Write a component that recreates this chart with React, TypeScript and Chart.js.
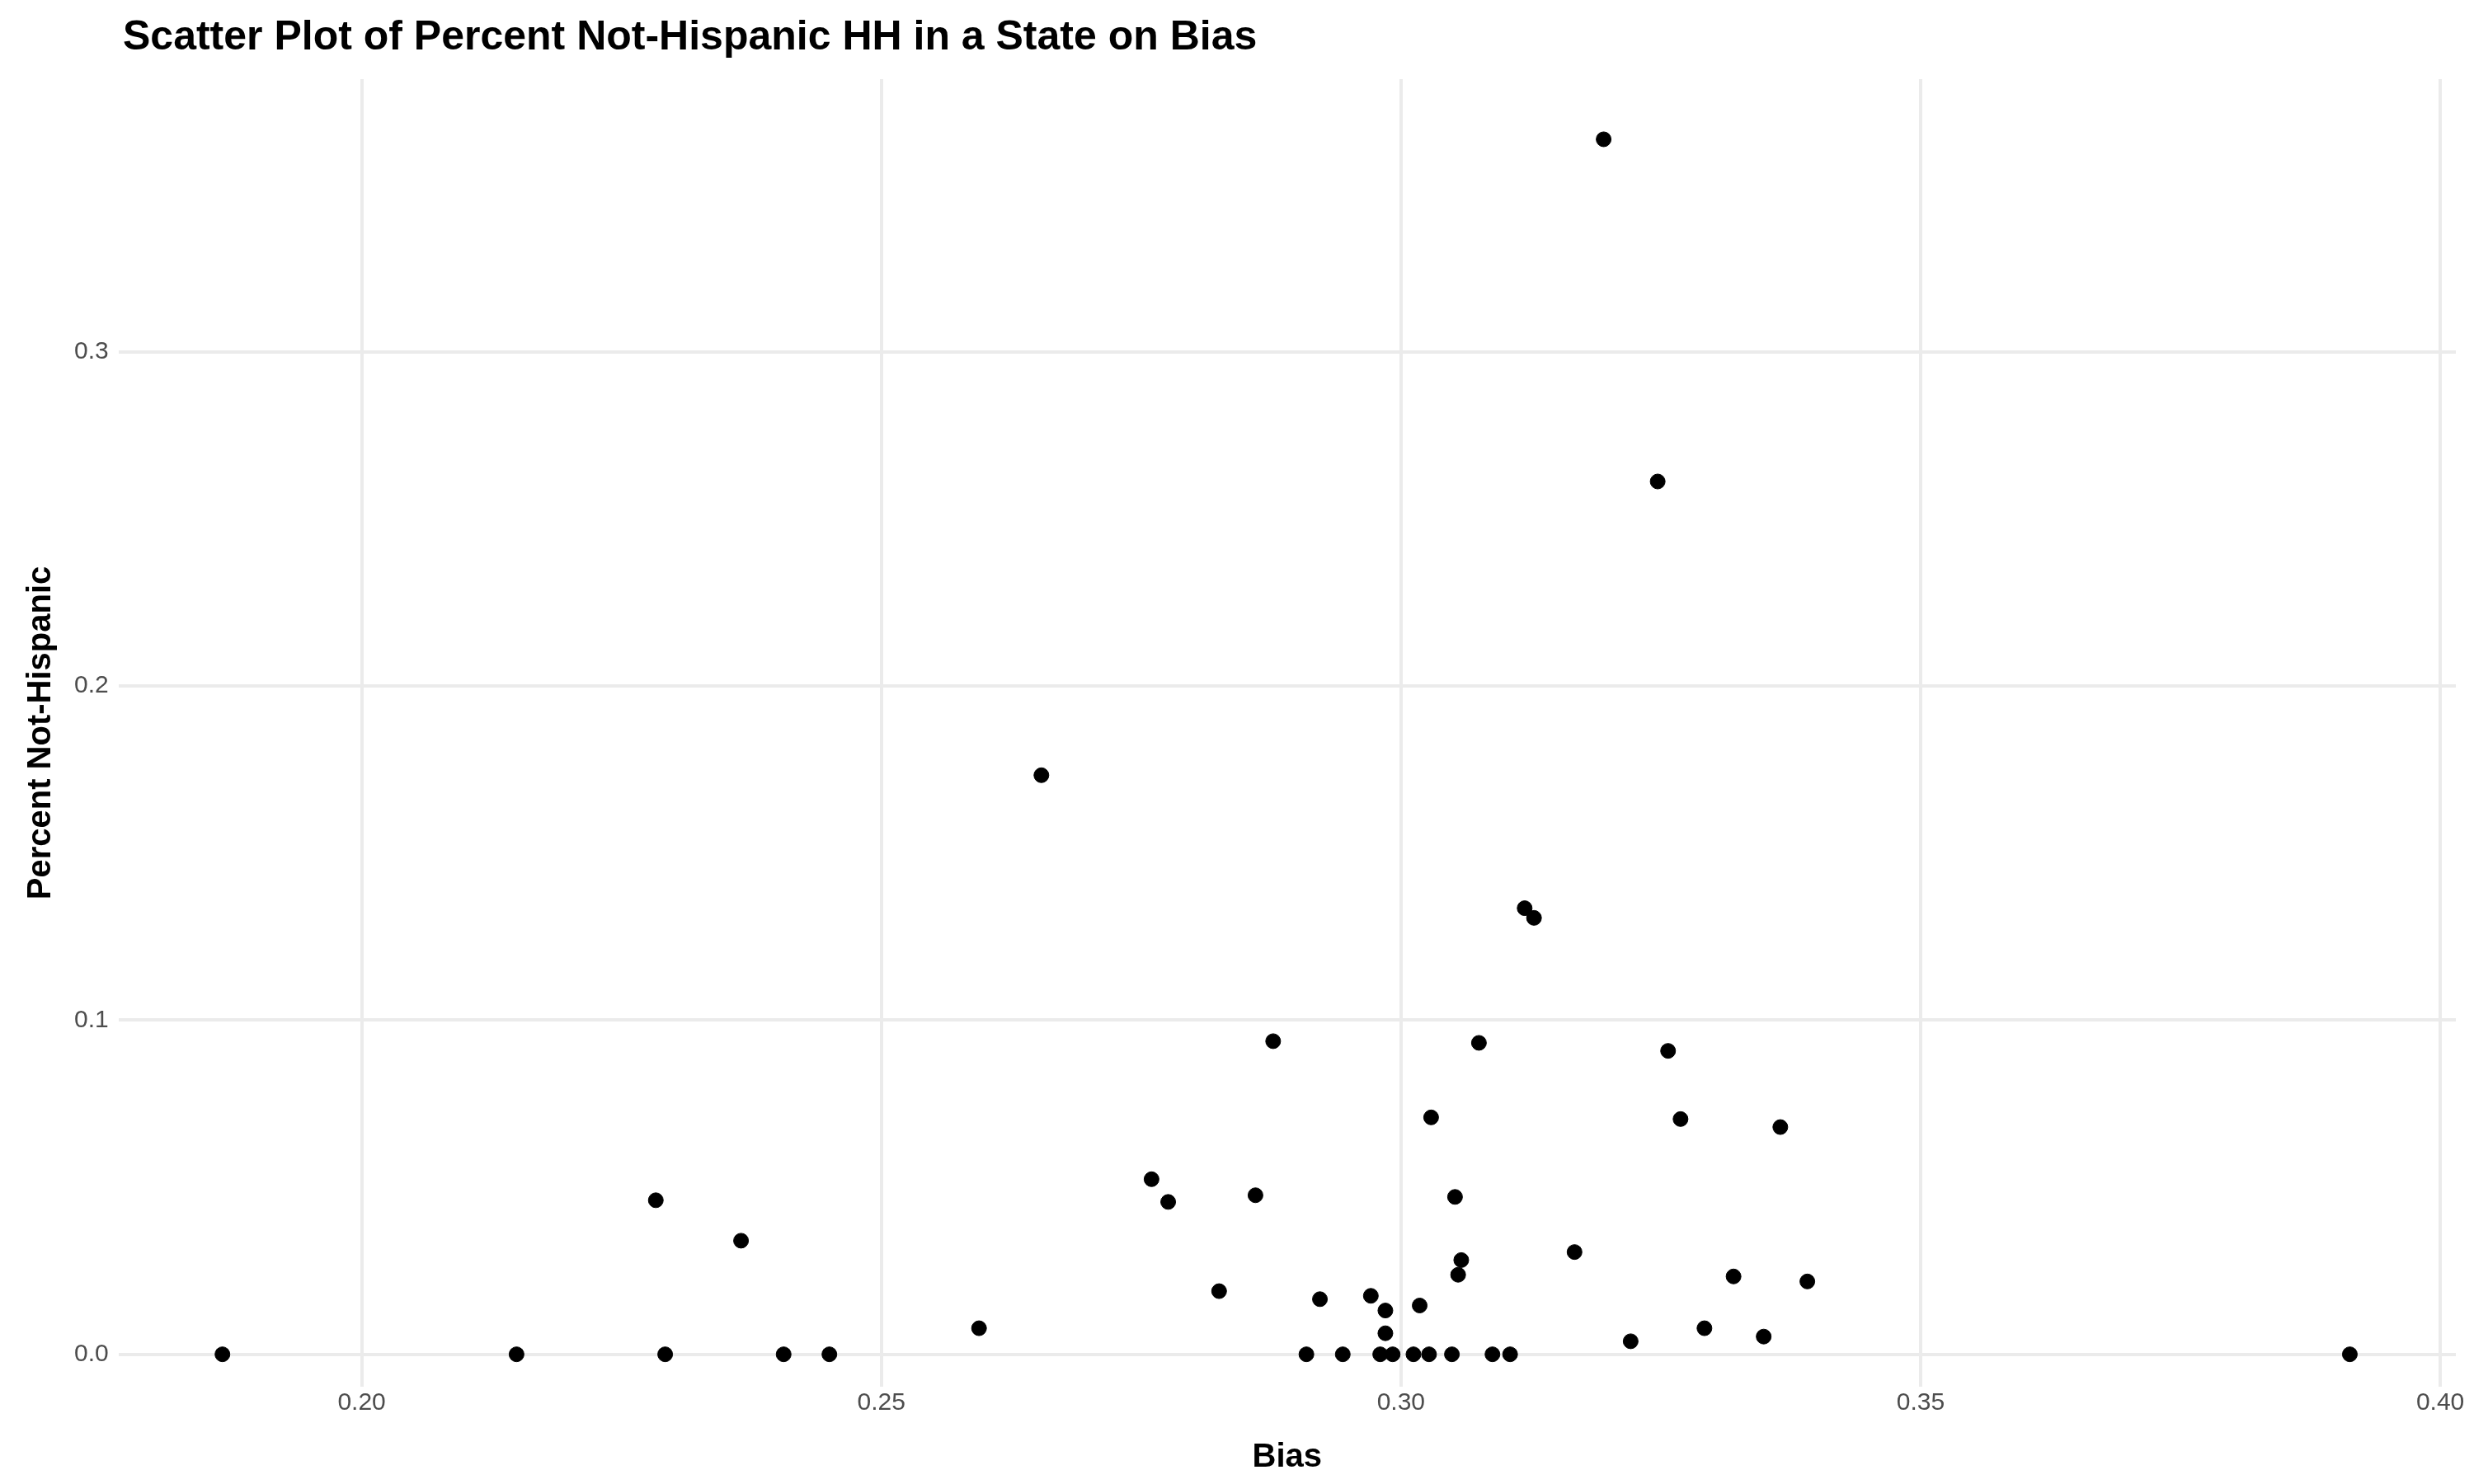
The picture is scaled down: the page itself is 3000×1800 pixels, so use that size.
import { useEffect, useRef } from 'react';
import { Chart, registerables } from 'chart.js';

Chart.register(...registerables);

const biasValues = [
  0.1866, 0.2149, 0.2283, 0.2292, 0.2365, 0.2406, 0.245, 0.2594, 0.2654, 0.276,
  0.2776, 0.2825, 0.286, 0.2877, 0.2909, 0.2922, 0.2944, 0.2971, 0.298, 0.2985,
  0.2985, 0.2992, 0.3012, 0.3018, 0.3027, 0.3029, 0.3049, 0.3052, 0.3055, 0.3058,
  0.3075, 0.3088, 0.3105, 0.3119, 0.3128, 0.3167, 0.3195, 0.3221, 0.3247, 0.3257,
  0.3269, 0.3292, 0.332, 0.3349, 0.3365, 0.3391, 0.3913,
];
const pctNotHispanic = [
  0, 0, 0.0461, 0, 0.034, 0, 0, 0.0078, 0.1733, 0.0524,
  0.0456, 0.0189, 0.0476, 0.0937, 0, 0.0165, 0, 0.0175, 0, 0.0131,
  0.0063, 0, 0, 0.0146, 0, 0.0709, 0, 0.0471, 0.0238, 0.0282,
  0.0932, 0, 0, 0.1335, 0.1306, 0.0306, 0.3636, 0.0039, 0.2612, 0.0908,
  0.0704, 0.0078, 0.0233, 0.0053, 0.068, 0.0218, 0,
];
const xTicks = [0.2, 0.25, 0.3, 0.35, 0.4];
const yTicks = [0, 0.1, 0.2, 0.3];

export default function App() {
  const canvasRef = useRef<HTMLCanvasElement>(null);

  useEffect(() => {
    document.body.style.margin = '0';
    if (!canvasRef.current) return;
    const chart = new Chart(canvasRef.current, {
      type: 'scatter',
      data: {
        datasets: [
          {
            data: biasValues.map((x, i) => ({ x, y: pctNotHispanic[i] })),
            backgroundColor: '#000',
            borderColor: '#000',
            pointRadius: 9,
          },
        ],
      },
      options: {
        animation: false,
        responsive: true,
        maintainAspectRatio: false,
        layout: { padding: { top: 96, right: 22, bottom: 8, left: 22 } },
        plugins: {
          legend: { display: false },
          tooltip: { enabled: false },
        },
        scales: {
          x: {
            type: 'linear',
            min: 0.1766,
            max: 0.4015,
            afterBuildTicks: (s) => {
              s.ticks = xTicks.map((v) => ({ value: v }));
            },
            ticks: {
              color: '#4d4d4d',
              font: { family: 'Liberation Sans', size: 30 },
              callback: (v) => Number(v).toFixed(2),
              padding: 2,
            },
            grid: { color: '#ebebeb', lineWidth: 4, drawTicks: false },
            border: { display: false },
            title: {
              display: true,
              text: 'Bias',
              color: '#000',
              font: { family: 'Liberation Sans', size: 40, weight: 'bold' },
              padding: { top: 22, bottom: 0 },
            },
          },
          y: {
            type: 'linear',
            min: -0.0097,
            max: 0.3816,
            afterBuildTicks: (s) => {
              s.ticks = yTicks.map((v) => ({ value: v }));
            },
            ticks: {
              color: '#4d4d4d',
              font: { family: 'Liberation Sans', size: 30 },
              callback: (v) => Number(v).toFixed(1),
              padding: 12,
            },
            grid: { color: '#ebebeb', lineWidth: 4, drawTicks: false },
            border: { display: false },
            title: {
              display: true,
              text: 'Percent Not-Hispanic',
              color: '#000',
              font: { family: 'Liberation Sans', size: 40, weight: 'bold' },
            },
          },
        },
      },
    });
    return () => chart.destroy();
  }, []);

  return (
    <div style={{ width: 3000, height: 1800, position: 'relative', background: '#fff' }}>
      <div
        style={{
          position: 'absolute',
          left: 149,
          top: 14,
          fontFamily: 'Liberation Sans',
          fontWeight: 'bold',
          fontSize: 50,
          color: '#000',
        }}
      >
        Scatter Plot of Percent Not-Hispanic HH in a State on Bias
      </div>
      <canvas ref={canvasRef}></canvas>
    </div>
  );
}
